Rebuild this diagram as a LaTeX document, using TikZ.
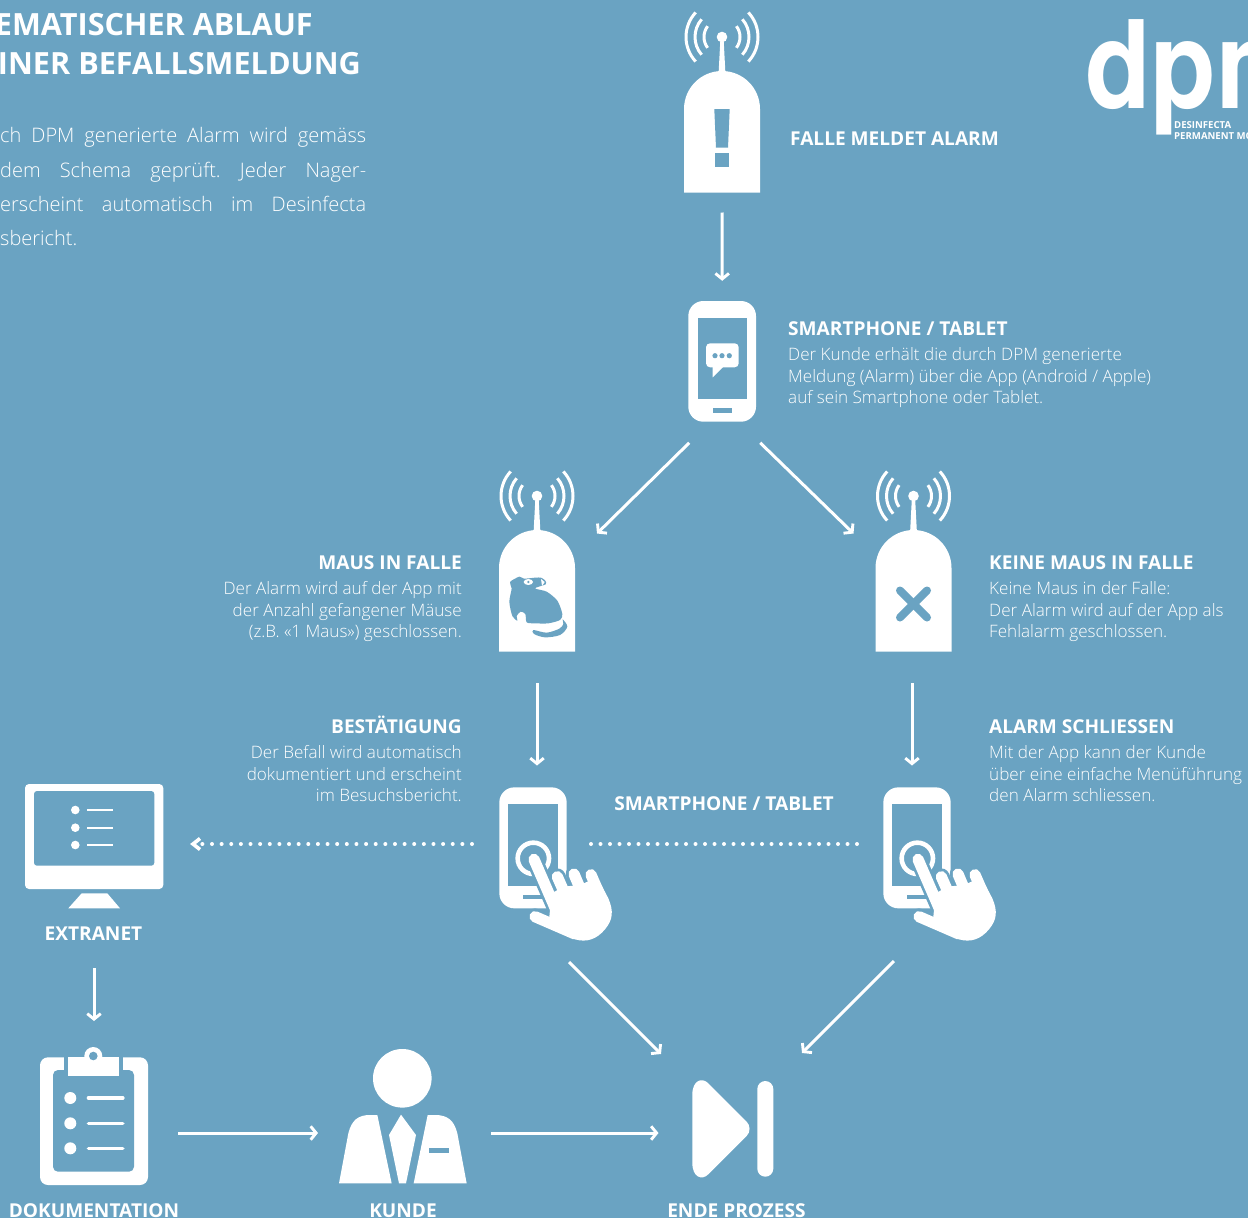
\documentclass[tikz,border=0pt]{standalone}
\usepackage{fontspec}
\setmainfont{Open Sans Light}[BoldFont={Open Sans Bold}]
\newfontfamily\logofont{TeX Gyre Heros}
\usetikzlibrary{arrows.meta}
\definecolor{bgblue}{HTML}{6AA3C2}
\definecolor{bodytxt}{HTML}{FFFFFF}
\tikzset{
  iconbox/.style={inner sep=0pt,outer sep=0pt,minimum width=#1},
  conn/.style={draw=white,line width=3pt,-{Straight Barb[length=5.5pt,width=13.5pt,line width=2.9pt]}},
  dots/.style={draw=white,line width=4pt,line cap=round,dash pattern=on 0pt off #1},
  head/.style={inner sep=0pt,text=white,font=\fontsize{19.1}{24}\selectfont\bfseries},
  bodyL/.style={inner sep=0pt,text=bodytxt,align=left,font=\fontsize{17.1}{21.35}\selectfont},
  bodyR/.style={inner sep=0pt,text=bodytxt,align=right,font=\fontsize{17.1}{21.35}\selectfont},
  intro/.style={inner sep=0pt,text=bodytxt,font=\frenchspacing\fontsize{20}{24}\selectfont},
  titletxt/.style={inner sep=0pt,text=white,font=\fontsize{30.6}{36}\selectfont\bfseries},
}
\newcommand\antennatrap[2]{%
  \begin{scope}[shift={(#1,#2)}]
    \fill[white] (-38,192.5) -- (-38,109) arc[start angle=180,end angle=360,radius=38] -- (38,192.5) -- cycle;
    \fill[white] (-3.5,75) -- (-1.5,37) -- (1.5,37) -- (3.5,75) -- cycle;
    \fill[white] (0,37) circle[radius=5.3];
    \foreach \r/\a in {18/37,27/41,36/43}{
      \draw[white,line width=3pt] (0,37) ++(-\a:\r) arc[start angle=-\a,end angle=\a,radius=\r];
      \draw[white,line width=3pt] (0,37) ++(180-\a:\r) arc[start angle=180-\a,end angle=180+\a,radius=\r];
    }
  \end{scope}}
\newcommand\touchphone[1]{%
  \begin{scope}[shift={(#1,770)},scale=0.33333]
    \fill[white,rounded corners=15pt] (58,52) rectangle (260,415);
    \fill[bgblue] (85,103) rectangle (233,347);
    \fill[bgblue] (130,375) rectangle (185,388);
    \draw[bgblue,line width=9pt] (160,265) circle[radius=55];
    \draw[white,line width=4.6pt] (160,265) circle[radius=47];
    % hand: halo first
    \begin{scope}[line cap=round,bgblue,line width=16.5pt]
      \draw (162,268) -- (228,420);
      \draw (232,320) -- (265,395);
      \draw (282,312) -- (315,390);
      \draw (333,314) -- (370,400);
      \draw (165,440) -- (285,492);
    \end{scope}
    \fill[bgblue] (205,360) -- (385,370) -- (405,430) -- (330,525) -- (200,480) -- cycle;
    \begin{scope}[line cap=round,white,line width=11.2pt]
      \draw (162,268) -- (228,420);
      \draw (232,320) -- (265,395);
      \draw (282,312) -- (315,390);
      \draw (333,314) -- (370,400);
      \draw (165,440) -- (285,492);
    \end{scope}
    \fill[white] (215,370) -- (250,350) -- (300,345) -- (352,322) -- (385,385)
       .. controls (402,425) and (398,450) .. (375,478)
       .. controls (350,508) and (320,518) .. (285,508) -- (205,470) -- cycle;
  \end{scope}}
\begin{document}
\begin{tikzpicture}[x=1pt,y=-1pt]
\useasboundingbox (0,0) rectangle (1248,1218);
\fill[bgblue] (0,0) rectangle (1248,1218);

% ---------- title block
\node[titletxt,anchor=base east] (titleA) at (313,35) {EMATISCHER ABLAUF};
\node[titletxt,anchor=base east] (titleB) at (361,74) {INER BEFALLSMELDUNG};
\node[intro,anchor=base west] (introA) at (0,142) {\hbox to 366pt{ch DPM generierte Alarm wird gemäss}};
\node[intro,anchor=base west] (introB) at (0,177) {\hbox to 366pt{dem Schema geprüft. Jeder Nager-}};
\node[intro,anchor=base west] (introC) at (0,211) {\hbox to 366pt{erscheint automatisch im Desinfecta}};
\node[intro,anchor=base west] (introD) at (0,245) {sbericht.};

% ---------- logo
\begin{scope}
  \clip (1060,0) rectangle (1248,150);
  \node[inner sep=0pt,anchor=base west,text=white,xscale=0.88,transform shape,font=\logofont\fontsize{122}{122}\selectfont\bfseries] (logo) at (1085,108) {dpm};
\end{scope}
\node[inner sep=0pt,anchor=base west,text=white,align=left,font=\fontsize{9.6}{10.6}\selectfont\bfseries] (logoA) at (1174,128.5) {DESINFECTA};
\node[inner sep=0pt,anchor=base west,text=white,align=left,font=\fontsize{9.6}{10.6}\selectfont\bfseries] (logoB) at (1174,139.5) {PERMANENT MO};

% ---------- invisible icon anchors
\node[iconbox=76pt,minimum height=179pt] (trapA) at (722,103) {};
\node[iconbox=68pt,minimum height=121pt] (phoneA) at (722.2,361.3) {};
\node[iconbox=76pt,minimum height=179pt] (trapB) at (537,562) {};
\node[iconbox=76pt,minimum height=179pt] (trapC) at (913.5,562) {};
\node[iconbox=68pt,minimum height=121pt] (touchA) at (533,848) {};
\node[iconbox=68pt,minimum height=121pt] (touchB) at (917,848) {};
\node[iconbox=138pt,minimum height=124pt] (monitor) at (94,846) {};
\node[iconbox=108pt,minimum height=128pt] (board) at (94,1121) {};
\node[iconbox=128pt,minimum height=125pt] (person) at (403,1111) {};
\node[iconbox=81pt,minimum height=96pt] (finish) at (733,1129) {};

% ---------- trap icons
\antennatrap{722}{0}
\fill[bgblue] (714.3,109) -- (729.7,109) -- (728,147.7) -- (716,147.7) -- cycle;
\fill[bgblue] (715,153) rectangle (729,166.7);

\antennatrap{537}{459}
\begin{scope}[shift={(480,460)},scale=0.33333]
  \fill[bgblue] plot[smooth cycle,tension=0.45] coordinates {
    (90,366) (118,350) (132,356) (165,353) (183,353) (196,362) (197,373) (165,385) (200,395)
    (232,422) (247,462) (240,480) (205,490) (165,490) (140,487) (136,462) (122,455) (110,468) (112,482)
    (97,468) (88,425) (95,385)};
  \fill[bgblue] plot[smooth cycle,tension=0.5] coordinates {
    (248,478) (262,500) (240,525) (195,532) (162,522) (160,510) (200,518) (238,506) (250,492)};
  \fill[white] (145,366) ellipse[x radius=14,y radius=9];
  \fill[bgblue] (145,366) circle[radius=4];
  \fill[white] (183,357) -- (194,366) -- (186,378) -- cycle;
\end{scope}

\antennatrap{913.5}{459}
\draw[bgblue,line width=8pt,line cap=round] (900,590.5) -- (927,617.5);
\draw[bgblue,line width=8pt,line cap=round] (927,590.5) -- (900,617.5);

% ---------- smartphone
\fill[white,rounded corners=15pt] (688.3,301) rectangle (756,421.7);
\fill[bgblue] (697.7,317.7) rectangle (746.7,399);
\fill[bgblue] (712.7,407.7) rectangle (731.7,412.7);
\fill[white,rounded corners=4pt] (706,343.3) rectangle (738.7,367.3);
\fill[white] (712.7,366) -- (712.7,377.3) -- (724,366) -- cycle;
\foreach \dx in {715,722,729.3}{\fill[bgblue] (\dx,355.7) circle[radius=2.6];}

% ---------- touch phones
\touchphone{480}
\touchphone{864}

% ---------- monitor
\fill[white,rounded corners=4pt] (25,784) rectangle (163.3,889);
\fill[bgblue,rounded corners=3pt] (34,791) rectangle (154.3,865.7);
\fill[white] (81.7,893.3) -- (107.3,893.3) -- (120,908.3) -- (68.3,908.3) -- cycle;
\foreach \yy in {810,827.7,845}{
  \fill[white] (75.3,\yy) circle[radius=4.3];
  \draw[white,line width=2.4pt] (87.3,\yy) -- (112.7,\yy);
}

% ---------- clipboard
\fill[white,rounded corners=8pt] (40,1057.3) rectangle (148,1185);
\fill[bgblue,rounded corners=5pt] (53,1070) rectangle (134,1171.7);
\fill[bgblue] (63.7,1050) rectangle (123.3,1080);
\fill[white] (68.3,1056.7) rectangle (118.7,1075.7);
\fill[white] (93.3,1056) circle[radius=9];
\fill[bgblue] (93.3,1056) circle[radius=4.3];
\foreach \yy in {1098,1123.3,1148.3}{
  \fill[white] (70.3,\yy) circle[radius=6];
  \draw[white,line width=3.6pt,line cap=round] (88.5,\yy) -- (122.8,\yy);
}

% ---------- person
\fill[white] (402.3,1078.3) circle[radius=29.3];
\begin{scope}[shift={(320,1030)},scale=0.33333]
  \fill[white] (57,460) -- (85,310) .. controls (95,270) and (115,255) .. (150,255) -- (172,255) -- (215,460) -- cycle;
  \fill[white] (440,460) -- (412,310) .. controls (402,270) and (382,255) .. (345,255) -- (323,255) -- (281,460) -- cycle;
  \fill[white] (243,254) -- (288,315) -- (258,460) -- (237,460) -- (207,315) -- cycle;
  \fill[bgblue] (328,355) rectangle (387,368);
\end{scope}

% ---------- end icon
\fill[white] (692.3,1095) .. controls (692.3,1080) and (702,1077) .. (708.3,1083.3) -- (746.7,1121.7)
  .. controls (750.5,1125.5) and (750.5,1132.1) .. (746.7,1135.9) -- (708.3,1174.3)
  .. controls (702,1180.6) and (692.3,1177.6) .. (692.3,1162.6) -- cycle;
\fill[white,rounded corners=8pt] (757.3,1081) rectangle (773.3,1176.7);

% ---------- connectors
\draw[conn] ([shift={(0,20)}]trapA.south) -- ([shift={(0,-20)}]phoneA.north);
\draw[conn] ([shift={(1,21)}]phoneA.south west) -- ([shift={(22,61)}]trapB.north east);
\draw[conn] ([shift={(4,21)}]phoneA.south east) -- ([shift={(-22,61)}]trapC.north west);
\draw[conn] ([shift={(0,31.5)}]trapB.south) -- ([shift={(4,-22)}]touchA.north);
\draw[conn] ([shift={(-1.5,31.5)}]trapC.south) -- ([shift={(-5,-22)}]touchB.north);
\draw[dots=9.63pt] ([shift={(-27,-4)}]touchA.west) -- ([shift={(37.5,-2)}]monitor.east);
\draw[white,line width=3.6pt,line join=miter] ([shift={(37,-7.5)}]monitor.east) -- ([shift={(30,-2)}]monitor.east) -- ([shift={(37,3.5)}]monitor.east);
\draw[dots=9.5pt] ([shift={(-26,-4)}]touchB.west) -- ([shift={(23,-4)}]touchA.east);
\draw[conn] ([shift={(70,53.5)}]touchA.south west) -- ([shift={(-31.5,-27)}]finish.north west);
\draw[conn] ([shift={(-23,52.5)}]touchB.south) -- ([shift={(69,-28)}]finish.north);
\draw[conn] ([shift={(0,60)}]monitor.south) -- ([shift={(0,-36)}]board.north);
\draw[conn] ([shift={(30,12)}]board.east) -- ([shift={(-21,22)}]person.west);
\draw[conn] ([shift={(24,22)}]person.east) -- ([shift={(-34,4)}]finish.west);

% ---------- labels
\node[head,anchor=base west] (lA) at (790,145) {FALLE MELDET ALARM};
\node[head,anchor=base west] (lB) at (788,335) {SMARTPHONE / TABLET};
\node[bodyL,anchor=north west] (lBt) at (788,347.5) {Der Kunde erhält die durch DPM generierte\\Meldung (Alarm) über die App (Android / Apple)\\auf sein Smartphone oder Tablet.};
\node[head,anchor=base east] (lC) at (462,569) {MAUS IN FALLE};
\node[bodyR,anchor=north east] (lCt) at (462,581.5) {Der Alarm wird auf der App mit\\der Anzahl gefangener Mäuse\\(z.B. «1 Maus») geschlossen.};
\node[head,anchor=base west] (lD) at (989,569) {KEINE MAUS IN FALLE};
\node[bodyL,anchor=north west] (lDt) at (989,581.5) {Keine Maus in der Falle:\\Der Alarm wird auf der App als\\Fehlalarm geschlossen.};
\node[head,anchor=base east] (lE) at (462,733) {BESTÄTIGUNG};
\node[bodyR,anchor=north east] (lEt) at (462,745.5) {Der Befall wird automatisch\\dokumentiert und erscheint\\im Besuchsbericht.};
\node[head,anchor=base west] (lF) at (989,733) {ALARM SCHLIESSEN};
\node[bodyL,anchor=north west] (lFt) at (989,745.5) {Mit der App kann der Kunde\\über eine einfache Menüführung\\den Alarm schliessen.};
\node[head,anchor=base] (lG) at (724,810) {SMARTPHONE / TABLET};
\node[head,anchor=base] (lH) at (93.5,940) {EXTRANET};
\node[head,anchor=base] (lI) at (94,1217) {DOKUMENTATION};
\node[head,anchor=base] (lJ) at (403,1217) {KUNDE};
\node[head,anchor=base] (lK) at (736.5,1217) {ENDE PROZESS};
\end{tikzpicture}
\end{document}
